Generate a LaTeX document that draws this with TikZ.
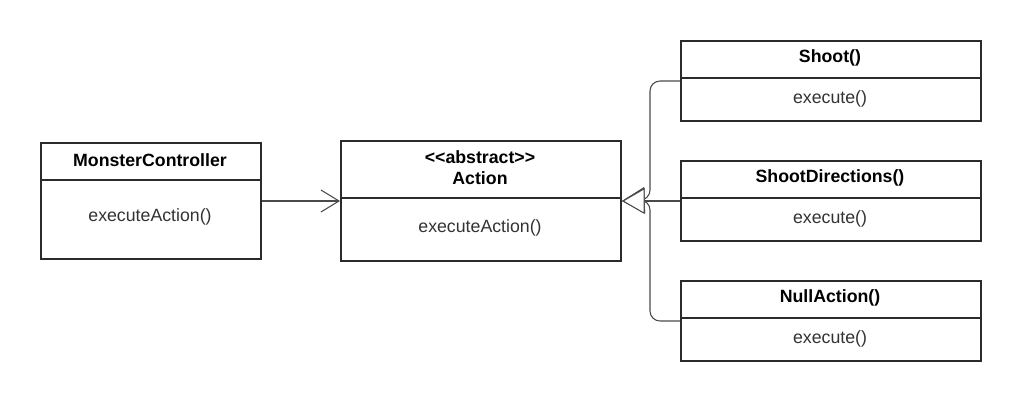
\documentclass[tikz,border=0pt]{standalone}
\usepackage{fontspec}
\setmainfont{Liberation Sans}
\usetikzlibrary{arrows.meta}
\definecolor{boxline}{HTML}{2B2B2B}
\definecolor{connline}{HTML}{4A4A4A}
\definecolor{bodytext}{HTML}{333333}
\begin{document}
\begin{tikzpicture}[x=0.75pt,y=-0.75pt,
  umlbox/.style={draw=boxline, line width=1.5pt, rectangle, anchor=north west, inner sep=0pt, fill=white},
  titletext/.style={font=\fontsize{13.3}{16}\selectfont\bfseries, text=black, align=center, inner sep=0pt},
  bodytxt/.style={font=\fontsize{13.3}{16}\selectfont, text=bodytext, inner sep=0pt},
  sepline/.style={draw=boxline, line width=1.5pt},
  conn/.style={draw=connline, line width=0.8pt},
  gen/.style={conn, rounded corners=7.5pt, -{Triangle[open, length=17pt, width=19.5pt, fill=white, line width=0.8pt]}},
  assoc/.style={conn, -{Straight Barb[length=13.5pt, width=16.5pt, line width=0.8pt]}}
]
\useasboundingbox (0,0) rectangle (1020,400);

% MonsterController
\node[umlbox, minimum width=165pt, minimum height=87pt] (mc) at (40,142) {};
\draw[sepline] (mc.north west) ++(0,38) coordinate (mcs) -- ++(220,0);
\node[titletext] (mct) at (150,160) {MonsterController};
\node[bodytxt] (mcb) at (150,217) {executeAction()};

% Action
\node[umlbox, minimum width=210pt, minimum height=90pt] (act) at (340,140) {};
\draw[sepline] (act.north west) ++(0,58) coordinate (acts) -- ++(280,0);
\node[titletext] (actt1) at (480,157) {<{}<abstract>{}>};
\node[titletext] (actt2) at (480,178) {Action};
\node[bodytxt] (actb) at (480,228) {executeAction()};

% Shoot
\node[umlbox, minimum width=225pt, minimum height=60pt] (sh) at (680,40) {};
\draw[sepline] (sh.north west) ++(0,38) coordinate (shs) -- ++(300,0);
\node[titletext] (sht) at (830,58) {Shoot()};
\node[bodytxt] (shb) at (830,99) {execute()};

% ShootDirections
\node[umlbox, minimum width=225pt, minimum height=60pt] (sd) at (680,160) {};
\draw[sepline] (sd.north west) ++(0,38) coordinate (sds) -- ++(300,0);
\node[titletext] (sdt) at (830,178) {ShootDirections()};
\node[bodytxt] (sdb) at (830,219) {execute()};

% NullAction
\node[umlbox, minimum width=225pt, minimum height=60pt] (na) at (680,280) {};
\draw[sepline] (na.north west) ++(0,38) coordinate (nas) -- ++(300,0);
\node[titletext] (nat) at (830,298) {NullAction()};
\node[bodytxt] (nab) at (830,339) {execute()};

% connectors
\coordinate (junc) at (650,200);
\draw[assoc] (mc.east) -- (act.east -| act.west);
\draw[gen] (sh.west) -| (junc) -- (act.east);
\draw[gen] (na.west) -| (junc) -- (act.east);
\draw[gen] (sd.west) -- (act.east);
\end{tikzpicture}
\end{document}
